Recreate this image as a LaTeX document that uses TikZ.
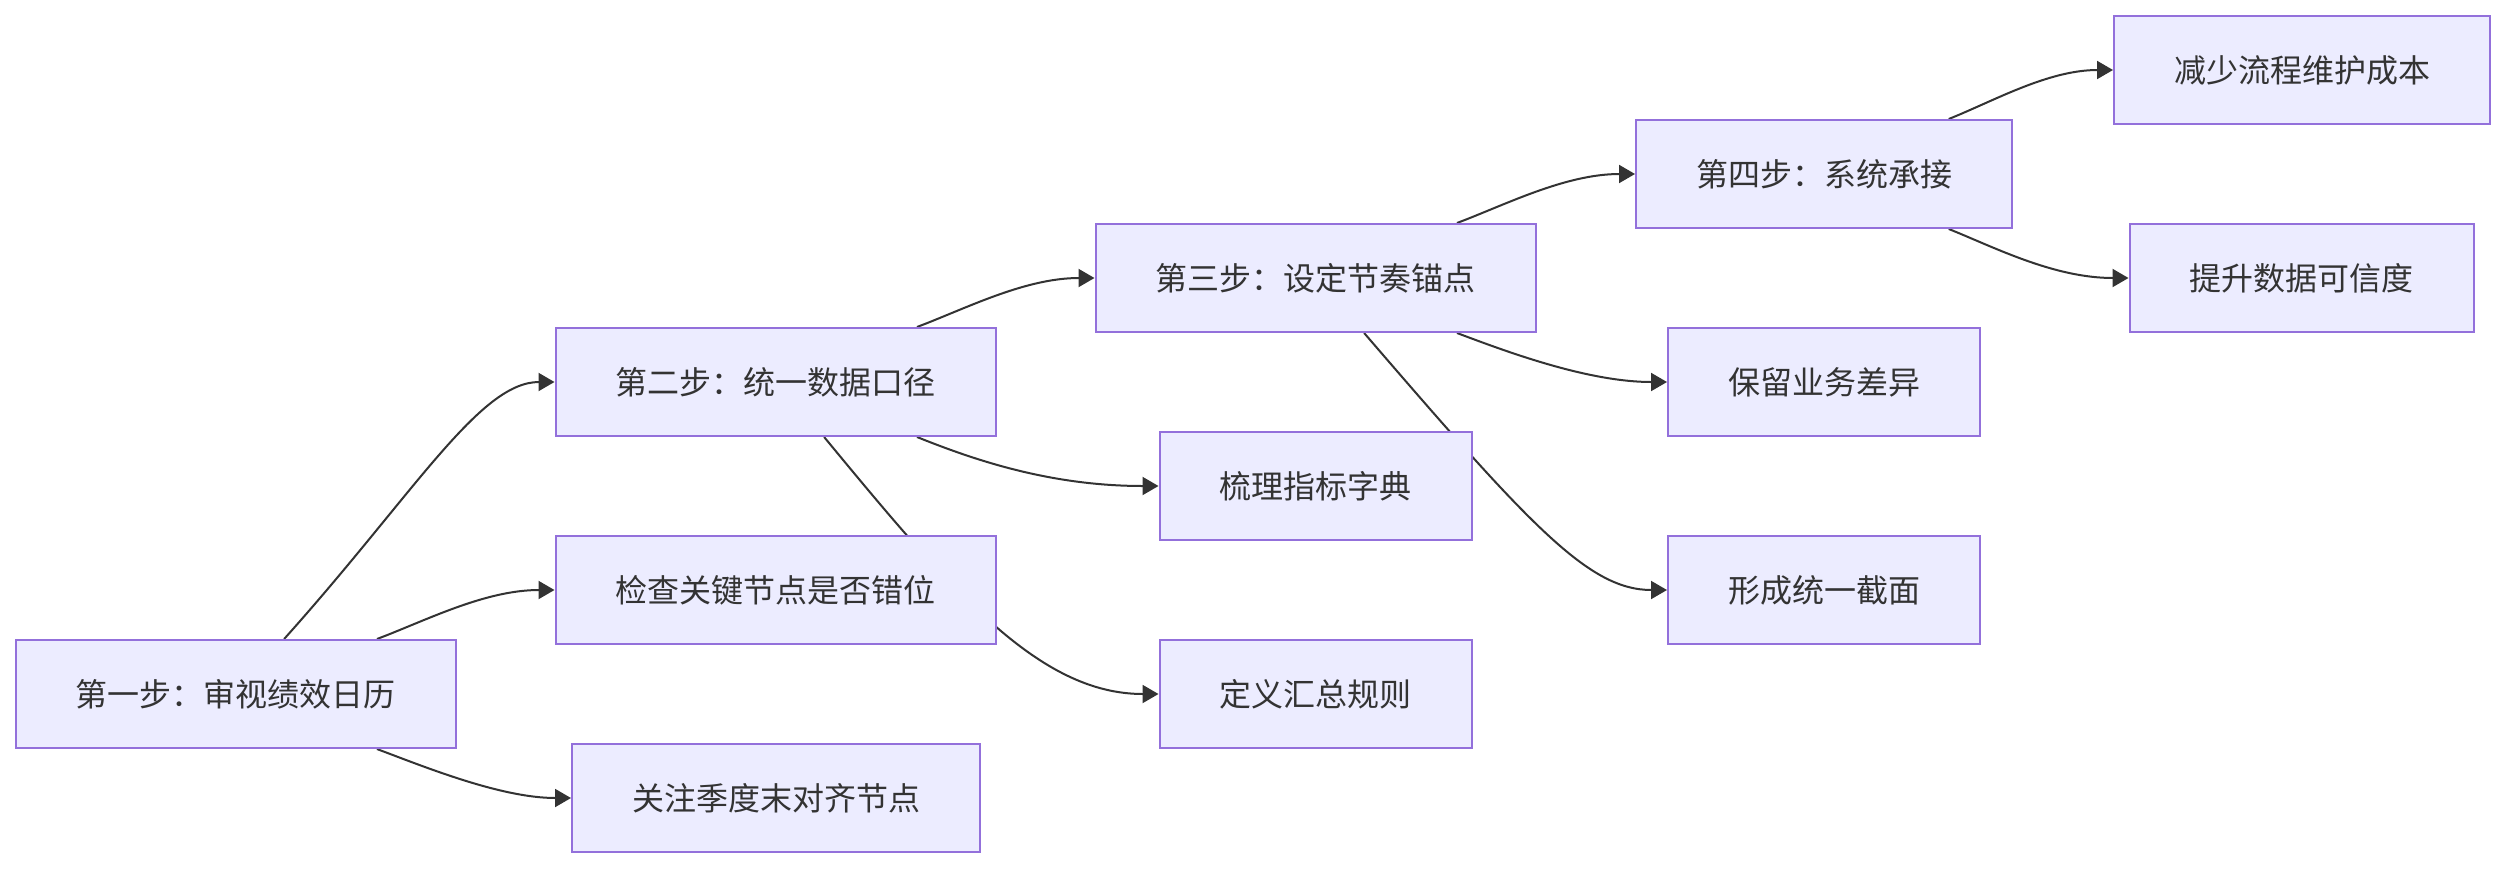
\documentclass[tikz,border=0pt]{standalone}
\usepackage{fontspec}
\setmainfont{Noto Sans CJK SC}
\usepackage{tikz}
\usetikzlibrary{arrows.meta,calc,backgrounds}
\usepackage{xcolor}
\definecolor{boxfill}{RGB}{236,236,255}
\definecolor{boxline}{RGB}{147,112,219}
\definecolor{inkgray}{RGB}{51,51,51}

\tikzset{
    stepbox/.style={draw=boxline, line width=1pt, fill=boxfill, text=inkgray,
        font=\fontsize{16pt}{19pt}\selectfont, inner xsep=30pt, inner ysep=0pt,
        minimum height=54pt},
    flowline/.style={draw=inkgray, line width=1pt,
        -{Triangle[length=8pt,width=9pt]}}
}

\begin{document}
\begin{tikzpicture}[x=0.5pt, y=-0.5pt]
    \useasboundingbox (0,0) rectangle (2504,868);

    % column 1
    \node[stepbox] (audit) at (235.5,694) {第一步：审视绩效日历};
    % column 2
    \node[stepbox] (unify) at (775.5,382) {第二步：统一数据口径};
    \node[stepbox] (check) at (775.5,590) {检查关键节点是否错位};
    \node[stepbox] (quarter) at (776,798) {关注季度末对齐节点};
    % column 3
    \node[stepbox] (anchor) at (1315.5,278) {第三步：设定节奏锚点};
    \node[stepbox] (dict) at (1315.5,486) {梳理指标字典};
    \node[stepbox] (rules) at (1315.5,694) {定义汇总规则};
    % column 4
    \node[stepbox] (system) at (1824,174) {第四步：系统承接};
    \node[stepbox] (keep) at (1824,382) {保留业务差异};
    \node[stepbox] (slice) at (1824,590) {形成统一截面};
    % column 5
    \node[stepbox] (cost) at (2302,70) {减少流程维护成本};
    \node[stepbox] (trust) at (2301.5,278) {提升数据可信度};

    \begin{scope}[on background layer]
        \draw[flowline] ($(audit.north west)!0.61!(audit.north east)$)
            .. controls +(130,-145) and +(-75,0) .. (unify.west);
        \draw[flowline] ($(audit.north west)!0.82!(audit.north east)$)
            .. controls +(48,-18) and +(-70,0) .. (check.west);
        \draw[flowline] ($(audit.south west)!0.82!(audit.south east)$)
            .. controls +(48,18) and +(-70,0) .. (quarter.west);

        \draw[flowline] ($(unify.north west)!0.82!(unify.north east)$)
            .. controls +(48,-18) and +(-70,0) .. (anchor.west);
        \draw[flowline] ($(unify.south west)!0.82!(unify.south east)$)
            .. controls +(55,22) and +(-110,0) .. (dict.west);
        \draw[flowline] ($(unify.south west)!0.61!(unify.south east)$)
            .. controls +(127,154) and +(-120,0) .. (rules.west);

        \draw[flowline] ($(anchor.north west)!0.82!(anchor.north east)$)
            .. controls +(48,-18) and +(-70,0) .. (system.west);
        \draw[flowline] ($(anchor.south west)!0.82!(anchor.south east)$)
            .. controls +(48,18) and +(-80,0) .. (keep.west);
        \draw[flowline] ($(anchor.south west)!0.61!(anchor.south east)$)
            .. controls +(167,194) and +(-78,0) .. (slice.west);

        \draw[flowline] ($(system.north west)!0.83!(system.north east)$)
            .. controls +(45,-18) and +(-65,0) .. (cost.west);
        \draw[flowline] ($(system.south west)!0.83!(system.south east)$)
            .. controls +(45,18) and +(-75,0) .. (trust.west);
    \end{scope}
\end{tikzpicture}
\end{document}
